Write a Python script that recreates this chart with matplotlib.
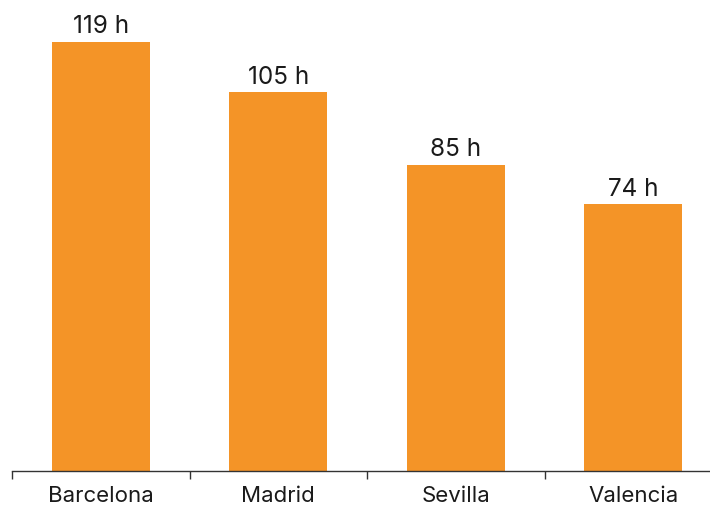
import matplotlib.pyplot as plt

cities = ["Barcelona", "Madrid", "Sevilla", "Valencia"]
hours = [119, 105, 85, 74]
value_labels = ["119 h", "105 h", "85 h", "74 h"]

plt.rcParams['font.family'] = ['Inter', 'Roboto', 'DejaVu Sans']

fig = plt.figure(figsize=(7.1, 5.06), dpi=100)
# axis spans four equal bands, the last one running off the right edge
ax = fig.add_axes([12 / 710, 34 / 506, 710 / 710, 472 / 506])

x = range(len(cities))
bars = ax.bar(x, hours, width=0.55, color="#F49427")

for b, lab in zip(bars, value_labels):
    ax.annotate(lab, (b.get_x() + b.get_width() / 2, b.get_height()),
                xytext=(0, 3.2), textcoords="offset points",
                ha="center", va="bottom", fontsize=17.5, color="#1a1a1a")

ax.set_xlim(-0.5, 3.5)
ax.set_ylim(0, 130.9)

ax.set_xticks([i + 0.5 for i in range(-1, 4)], minor=False)
ax.set_xticklabels([])
ax.set_xticks(list(x), minor=True)
ax.set_xticklabels(cities, minor=True, fontsize=16, color="#1a1a1a")
ax.tick_params(axis="x", which="major", length=6, width=1, color="#333333")
ax.tick_params(axis="x", which="minor", length=0, pad=10)

ax.set_yticks([])
for side in ["top", "right", "left"]:
    ax.spines[side].set_visible(False)
ax.spines["bottom"].set_color("#333333")
ax.spines["bottom"].set_linewidth(1)

fig.savefig("out.png", dpi=100)
